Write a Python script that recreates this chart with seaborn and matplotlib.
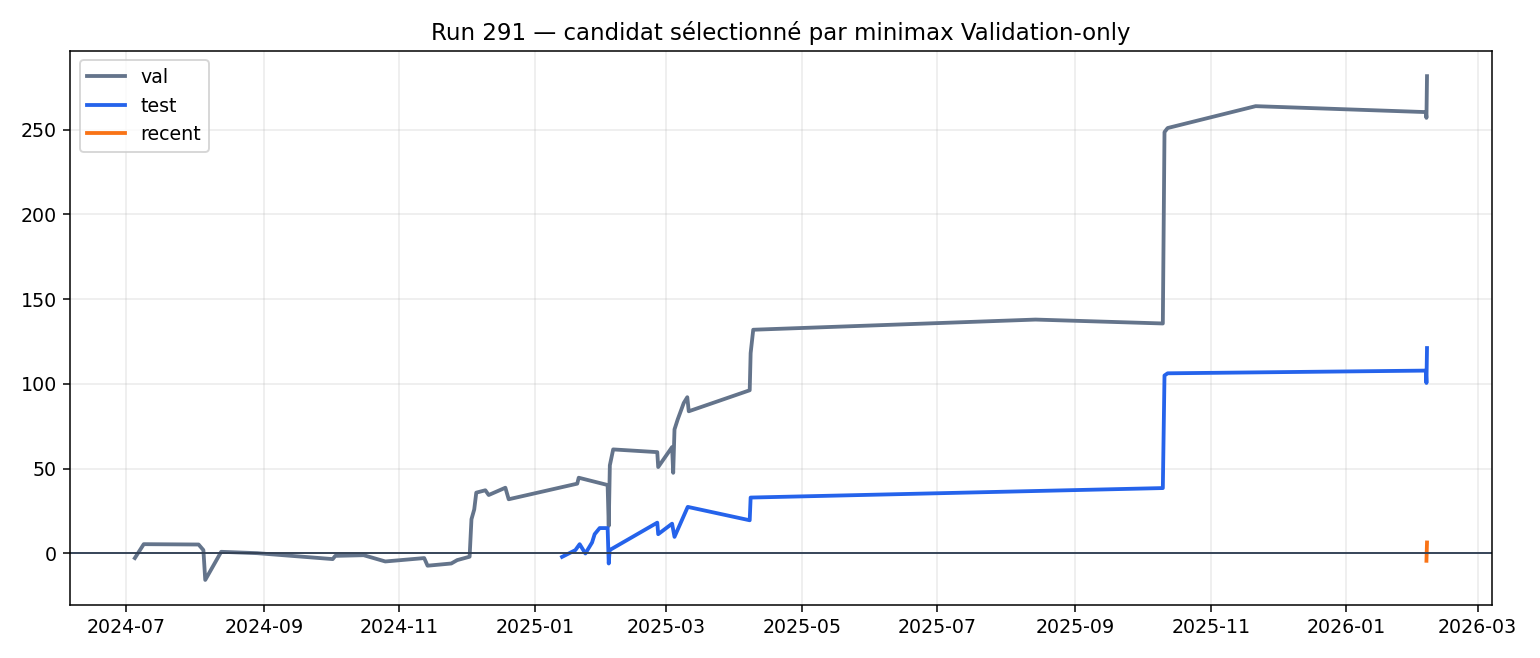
import pandas as pd
import matplotlib
matplotlib.use("Agg")
import matplotlib.pyplot as plt
import seaborn as sns

# cumulative series
val_dates = [
    "2024-07-05 00:00", "2024-07-09 00:00", "2024-08-02 16:00", "2024-08-04 20:00", "2024-08-05 16:00",
    "2024-08-12 20:00", "2024-08-29 00:00", "2024-10-02 00:00", "2024-10-03 04:00", "2024-10-15 22:00",
    "2024-10-25 16:00", "2024-11-12 04:00", "2024-11-13 16:00", "2024-11-24 08:00", "2024-11-27 00:00",
    "2024-12-02 14:00", "2024-12-03 10:00", "2024-12-04 16:00", "2024-12-05 14:00", "2024-12-09 16:00",
    "2024-12-11 04:00", "2024-12-18 16:00", "2024-12-20 04:00", "2025-01-20 00:00", "2025-01-20 16:00",
    "2025-02-02 16:00", "2025-02-03 04:00", "2025-02-03 16:00", "2025-02-05 04:00", "2025-02-25 00:00",
    "2025-02-25 10:00", "2025-03-03 16:00", "2025-03-04 04:00", "2025-03-04 18:00", "2025-03-06 04:00",
    "2025-03-08 22:00", "2025-03-10 12:00", "2025-03-11 04:00", "2025-04-07 14:00", "2025-04-08 00:00",
    "2025-04-09 04:00", "2025-08-14 04:00", "2025-10-10 10:00", "2025-10-11 04:00", "2025-10-12 14:00",
    "2025-11-21 04:00", "2026-02-05 18:00", "2026-02-06 00:00", "2026-02-06 06:00",
]
val_values = [
    -2.7, 5.5, 5.3, 2.0, -15.6,
    1.0, 0.2, -3.3, -1.4, -1.0,
    -4.7, -2.7, -7.2, -5.9, -3.9,
    -1.9, 20.2, 26.0, 35.9, 37.3,
    34.5, 38.8, 32.0, 41.2, 44.7,
    40.4, 16.3, 52.0, 61.4, 59.8,
    51.0, 62.8, 47.6, 73.2, 79.0,
    88.8, 92.2, 83.9, 96.3, 118.2,
    132.0, 138.0, 135.7, 248.6, 251.0,
    263.9, 260.4, 257.0, 281.6,
]

test_dates = [
    "2025-01-13 04:00", "2025-01-19 04:00", "2025-01-21 02:00", "2025-01-23 16:00", "2025-01-26 16:00",
    "2025-01-27 20:00", "2025-01-30 02:00", "2025-02-02 16:00", "2025-02-03 04:00", "2025-02-03 14:00",
    "2025-02-25 00:00", "2025-02-25 10:00", "2025-03-03 16:00", "2025-03-04 18:00", "2025-03-10 17:00",
    "2025-04-07 14:00", "2025-04-08 00:00", "2025-10-10 10:00", "2025-10-11 04:00", "2025-10-12 14:00",
    "2026-02-05 18:00", "2026-02-06 00:00", "2026-02-06 06:00",
]
test_values = [
    -2.0, 2.0, 5.5, 0.0, 6.5,
    11.4, 15.0, 15.0, -5.9, 2.0,
    18.2, 11.4, 17.6, 9.8, 27.5,
    19.6, 33.0, 38.6, 105.0, 106.3,
    107.9, 100.6, 121.2,
]

recent_dates = ["2026-02-06 00:00", "2026-02-06 06:00"]
recent_values = [-4.3, 6.5]

title = "Run 291 \u2014 candidat s\u00e9lectionn\u00e9 par minimax Validation-only"

series = [
    ("val", val_dates, val_values, "#64748b"),
    ("test", test_dates, test_values, "#2563eb"),
    ("recent", recent_dates, recent_values, "#f97316"),
]

dpi = 137
fig, ax = plt.subplots(figsize=(1540 / dpi, 658 / dpi), dpi=dpi)

for name, dates, values, color in series:
    df = pd.DataFrame({"date": pd.to_datetime(dates), "pnl": values})
    sns.lineplot(data=df, x="date", y="pnl", ax=ax, color=color, linewidth=2,
                 label=name, estimator=None, sort=False)

ax.axhline(0, color="#334155", linewidth=1)
ax.grid(True, alpha=0.25)
ax.set_title(title)
ax.set_xlabel("")
ax.set_ylabel("")
ax.legend(loc="upper left")

plt.tight_layout()
plt.savefig("out.png", dpi=dpi)
